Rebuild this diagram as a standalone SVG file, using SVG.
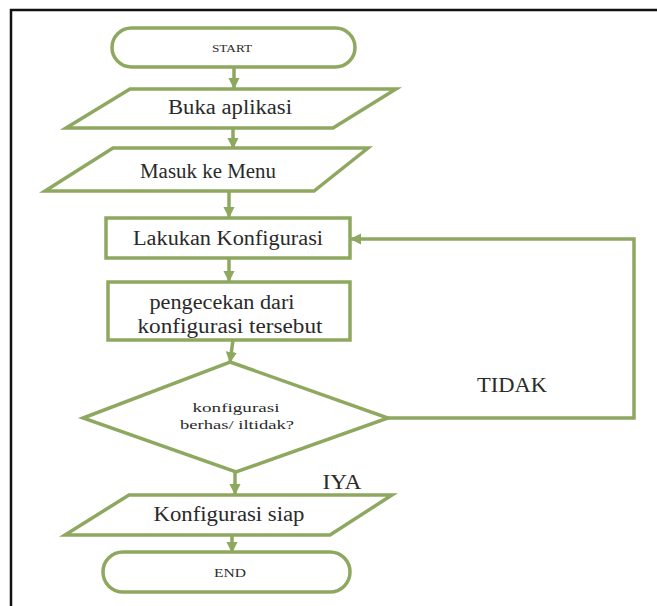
<svg xmlns="http://www.w3.org/2000/svg" width="657" height="606" viewBox="0 0 657 606">
<defs>
<style>
.s{fill:#ffffff;stroke:#8fa860;stroke-width:3.5}
.c{fill:none;stroke:#8fa860;stroke-width:3.5}
.t{font-family:"Liberation Serif","DejaVu Serif",serif;fill:#2a2a2a;text-anchor:middle}
.L{font-size:20px}
.S{font-size:13px}
.f{stroke:#111;stroke-width:2.5;fill:none}
</style>
<marker id="ah" viewBox="0 0 10 10" refX="9" refY="5" markerWidth="3.2" markerHeight="3.2" orient="auto" markerUnits="strokeWidth">
<path d="M0,0 L10,5 L0,10 Z" fill="#8fa860"/>
</marker>
</defs>
<rect width="657" height="606" fill="#ffffff"/>
<path class="f" d="M11,606 V10 H657"/>
<g id="connectors">
<line class="c" x1="234" y1="67" x2="234" y2="88" marker-end="url(#ah)"/>
<line class="c" x1="233" y1="128" x2="233" y2="148" marker-end="url(#ah)"/>
<line class="c" x1="229" y1="191" x2="229" y2="217" marker-end="url(#ah)"/>
<line class="c" x1="229" y1="258" x2="229" y2="281" marker-end="url(#ah)"/>
<line class="c" x1="233" y1="340" x2="230" y2="362" marker-end="url(#ah)"/>
<line class="c" x1="235" y1="472" x2="235" y2="494" marker-end="url(#ah)"/>
<line class="c" x1="232" y1="535" x2="232" y2="552" marker-end="url(#ah)"/>
<polyline class="c" points="388,418 634,418 634,239 351,239" marker-end="url(#ah)"/>
</g>
<g id="start">
<rect class="s" x="112" y="28" width="243" height="39" rx="19.5"/>
<text class="t" x="232" y="52" font-size="11" textLength="40" lengthAdjust="spacingAndGlyphs">START</text>
</g>
<g id="buka">
<polygon class="s" points="130,89 396,89 333,128 66,128"/>
<text class="t L" x="230" y="114" textLength="124" lengthAdjust="spacingAndGlyphs">Buka aplikasi</text>
</g>
<g id="masuk">
<polygon class="s" points="113,148 368,148 314,191 45,191"/>
<text class="t L" x="208" y="178" textLength="136" lengthAdjust="spacingAndGlyphs">Masuk ke Menu</text>
</g>
<g id="lakukan">
<rect class="s" x="106" y="218" width="244" height="40"/>
<text class="t L" x="228" y="245" textLength="190" lengthAdjust="spacingAndGlyphs">Lakukan Konfigurasi</text>
</g>
<g id="pengecekan">
<rect class="s" x="108" y="282" width="242" height="58"/>
<text class="t L" x="222" y="309" textLength="145" lengthAdjust="spacingAndGlyphs">pengecekan dari</text>
<text class="t L" x="230" y="333" textLength="185" lengthAdjust="spacingAndGlyphs">konfigurasi tersebut</text>
</g>
<g id="decision">
<polygon class="s" points="230,362 388,418 236,472 83,418"/>
<text class="t S" x="236" y="412" textLength="87" lengthAdjust="spacingAndGlyphs">konfigurasi</text>
<text class="t S" x="237" y="429" textLength="114" lengthAdjust="spacingAndGlyphs">berhas/ iltidak?</text>
</g>
<g id="labels">
<text class="t L" x="512" y="392" textLength="70" lengthAdjust="spacingAndGlyphs">TIDAK</text>
<text class="t L" x="342" y="489" textLength="39" lengthAdjust="spacingAndGlyphs">IYA</text>
</g>
<g id="siap">
<polygon class="s" points="129,495 392,495 330,535 65,535"/>
<text class="t L" x="229" y="521" textLength="151" lengthAdjust="spacingAndGlyphs">Konfigurasi siap</text>
</g>
<g id="end">
<rect class="s" x="103" y="552" width="247" height="40" rx="20"/>
<text class="t" x="230" y="577" font-size="12" textLength="32" lengthAdjust="spacingAndGlyphs">END</text>
</g>
</svg>
